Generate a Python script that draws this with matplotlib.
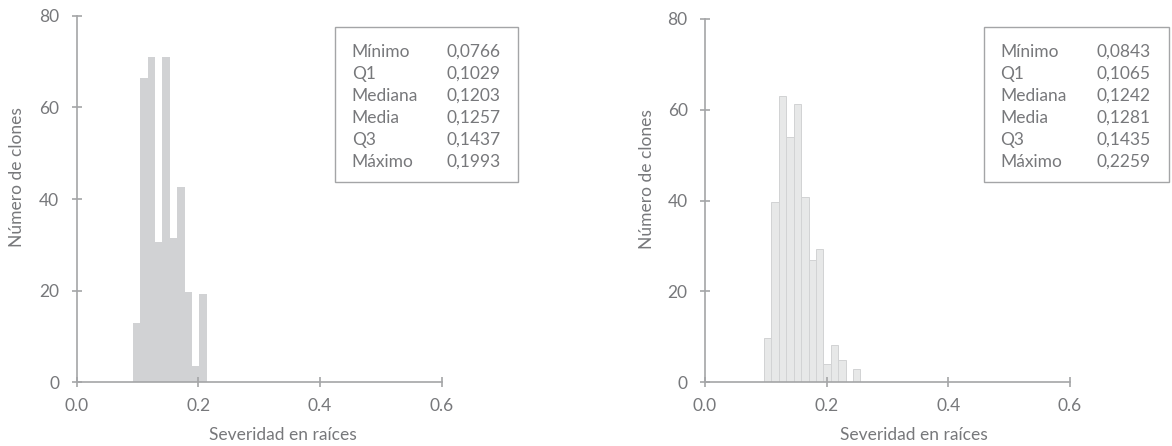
import matplotlib
matplotlib.use("Agg")
import matplotlib.pyplot as plt
from matplotlib.patches import Rectangle

plt.rcParams['font.family'] = ['Lato', 'DejaVu Sans']

# ---- data ----
left_edges = [0.0926, 0.1047, 0.1168, 0.1289, 0.1410, 0.1531, 0.1652, 0.1773, 0.1894, 0.2015, 0.2136]
left_counts = [13.0, 66.4, 70.9, 30.7, 70.9, 31.4, 42.6, 19.6, 3.6, 19.2]

right_edges = [0.0970, 0.1092, 0.1214, 0.1336, 0.1458, 0.1580, 0.1702, 0.1824, 0.1946,
               0.2068, 0.2190, 0.2312, 0.2434, 0.2556]
right_counts = [9.75, 39.7, 63.1, 54.1, 61.3, 40.9, 26.9, 29.4, 4.0, 8.2, 4.9, 0.0, 2.9]

stat_names = ["Mínimo", "Q1", "Mediana", "Media", "Q3", "Máximo"]
left_stats = ["0,0766", "0,1029", "0,1203", "0,1257", "0,1437", "0,1993"]
right_stats = ["0,0843", "0,1065", "0,1242", "0,1281", "0,1435", "0,2259"]

x_ticks = [0.0, 0.2, 0.4, 0.6]
x_ticklabels = ["0.0", "0.2", "0.4", "0.6"]
y_ticks = [0, 20, 40, 60, 80]
xlabel = "Severidad en raíces"
ylabel = "Número de clones"

# ---- style ----
W, H = 1172, 446
TXT = "#77787b"
AX = "#a4a5a7"
FS = 12.5

fig = plt.figure(figsize=(W / 100, H / 100), dpi=100)

def px_rect(x0, y0, x1, y1):
    return [x0 / W, 1 - y1 / H, (x1 - x0) / W, (y1 - y0) / H]

axL = fig.add_axes(px_rect(76.7, 15.7, 441.7, 382.3))
axR = fig.add_axes(px_rect(705, 19, 1070, 382.3))

def draw(ax, edges, counts, fc, ec, lw, xlab_x, ylab_x):
    widths = [edges[i + 1] - edges[i] for i in range(len(counts))]
    ax.bar(edges[:-1], counts, width=widths, align='edge', color=fc,
           edgecolor=ec, linewidth=lw)
    ax.set_xlim(0, 0.6)
    ax.set_ylim(0, 80)
    for s in ['top', 'right']:
        ax.spines[s].set_visible(False)
    for s in ['left', 'bottom']:
        ax.spines[s].set_color(AX)
        ax.spines[s].set_linewidth(1.2)
    ax.set_xticks(x_ticks)
    ax.set_xticklabels(x_ticklabels)
    ax.set_yticks(y_ticks)
    ax.tick_params(axis='both', direction='inout', length=7, width=1.2,
                   color=AX, labelcolor=TXT, labelsize=FS)
    ax.tick_params(axis='x', pad=8)
    ax.tick_params(axis='y', pad=9)
    ax.set_xlabel(xlabel, color=TXT, fontsize=FS)
    ax.set_ylabel(ylabel, color=TXT, fontsize=FS)
    ax.xaxis.set_label_coords(xlab_x, -0.123)
    ax.yaxis.set_label_coords(ylab_x, 0.56)

draw(axL, left_edges, left_counts, "#d1d2d4", "#d1d2d4", 0.0, 0.565, -0.142)
draw(axR, right_edges, right_counts, "#e7e8e8", "#d2d3d4", 0.7, 0.572, -0.137)

def stats_box(x0, x1, xlab, xval, values):
    y0, y1 = 27.3, 182.3
    fig.add_artist(Rectangle((x0 / W, 1 - y1 / H), (x1 - x0) / W, (y1 - y0) / H,
                             transform=fig.transFigure, facecolor='white',
                             edgecolor=AX, linewidth=1.0))
    for i, (n, v) in enumerate(zip(stat_names, values)):
        yc = 51.7 + 22 * i
        fig.text(xlab / W, 1 - yc / H, n, color=TXT, fontsize=FS,
                 va='center', ha='left')
        fig.text(xval / W, 1 - yc / H, v, color=TXT, fontsize=FS,
                 va='center', ha='left')

stats_box(335.3, 518.3, 351.7, 446.7, left_stats)
stats_box(984.3, 1169, 1000, 1096.7, right_stats)

fig.savefig("out.png", dpi=100)
